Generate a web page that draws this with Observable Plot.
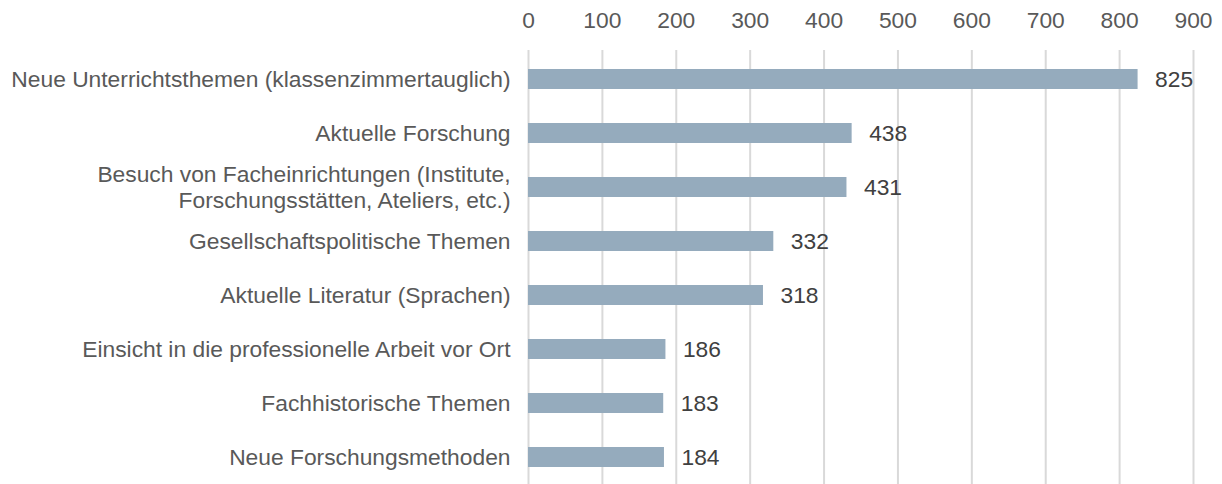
<!DOCTYPE html>
<html>
<head>
<meta charset="utf-8">
<script src="https://cdn.jsdelivr.net/npm/d3@7"></script>
<script src="https://cdn.jsdelivr.net/npm/@observablehq/plot@0.6"></script>
<style>
  html, body { margin: 0; padding: 0; background: #fff; overflow: hidden; }
  #chart { width: 1222px; height: 484px; }
</style>
</head>
<body>
<div id="chart"></div>
<script>
const categories = [
  "Neue Unterrichtsthemen (klassenzimmertauglich)",
  "Aktuelle Forschung",
  "Besuch von Facheinrichtungen (Institute,\nForschungsstätten, Ateliers, etc.)",
  "Gesellschaftspolitische Themen",
  "Aktuelle Literatur (Sprachen)",
  "Einsicht in die professionelle Arbeit vor Ort",
  "Fachhistorische Themen",
  "Neue Forschungsmethoden"
];
const values = [825, 438, 431, 332, 318, 186, 183, 184];
const xTicks = [0, 100, 200, 300, 400, 500, 600, 700, 800, 900];

const data = categories.map((c, i) => ({category: c, value: values[i]}));
const font = "'Liberation Sans', Arial, sans-serif";
const fs = 22.8;

const chart = Plot.plot({
  width: 1222,
  height: 486,
  marginTop: 50,
  marginBottom: 0,
  marginLeft: 528,
  marginRight: 29,
  style: {fontFamily: font, background: "#fff"},
  x: {domain: [0, 900], axis: null},
  y: {domain: categories, paddingInner: 0.635, paddingOuter: 0.3175, axis: null},
  marks: [
    Plot.ruleX(xTicks, {stroke: "#d9d9d9", strokeWidth: 2}),
    Plot.barX(data, {x: "value", y: "category", fill: "#95abbd"}),
    Plot.text(xTicks, {x: d => d, frameAnchor: "top", dy: -30, text: d => String(d), fontSize: fs, fill: "#595959", lineAnchor: "middle"}),
    Plot.text(data, {x: 0, y: "category", text: "category", textAnchor: "end", dx: -18, dy: -1, fontSize: fs, fill: "#595959", lineHeight: 1.15}),
    Plot.text(data, {x: "value", y: "category", text: d => String(d.value), textAnchor: "start", dx: 17, fontSize: fs, fill: "#404040"})
  ]
});
document.getElementById("chart").appendChild(chart);
</script>
</body>
</html>
